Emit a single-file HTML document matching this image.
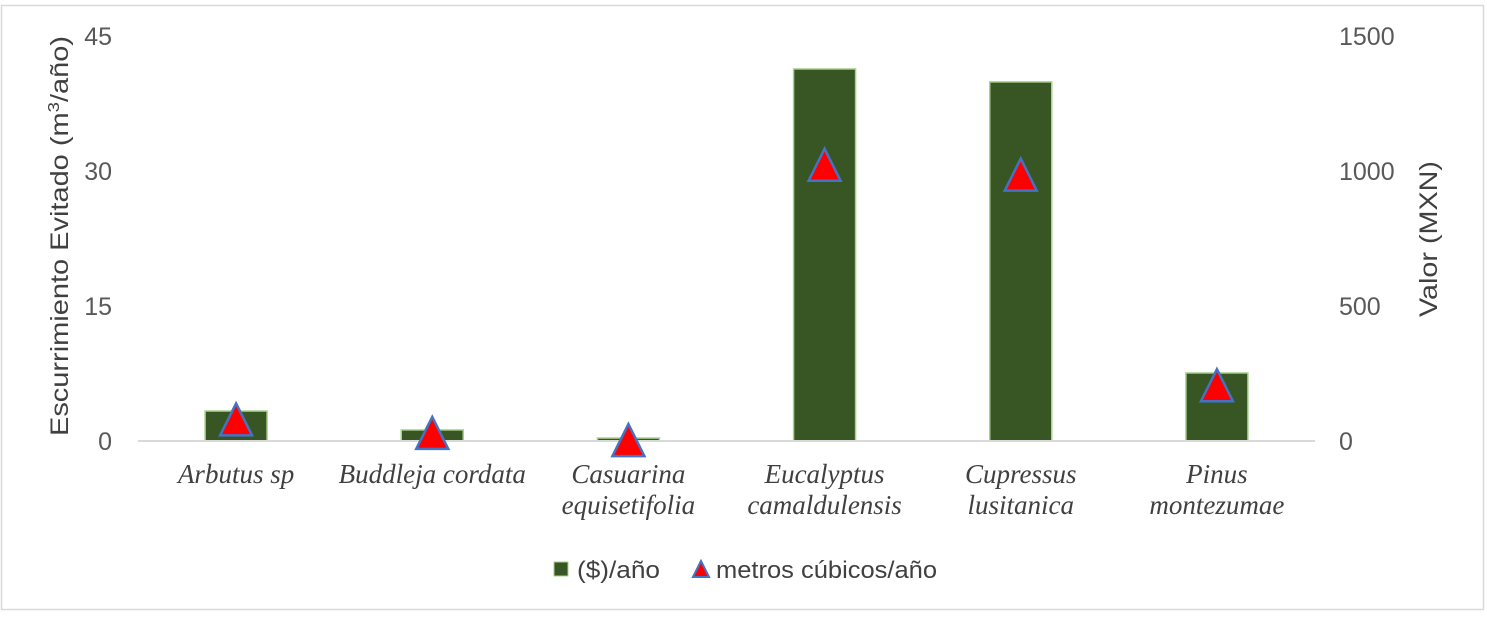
<!DOCTYPE html>
<html><head><meta charset="utf-8"><style>
html,body{margin:0;padding:0;background:#fff;}
svg text{font-family:"Liberation Sans",sans-serif;}
svg text.serif{font-family:"Liberation Serif",serif;}
</style></head><body>
<svg id="chart" width="1487" height="615" xmlns="http://www.w3.org/2000/svg">
<rect x="1.5" y="5.5" width="1482" height="604" fill="#fff" stroke="#d9d9d9" stroke-width="1.5"/>
<g id="plot"></g>
<text transform="translate(68,236) rotate(-90)" text-anchor="middle" font-size="25" fill="#404040" textLength="400" lengthAdjust="spacingAndGlyphs">Escurrimiento Evitado (m<tspan font-size="16" dy="-9">3</tspan><tspan dy="9">/año)</tspan></text>
<text transform="translate(1437,239) rotate(-90)" text-anchor="middle" font-size="25" fill="#404040" textLength="156" lengthAdjust="spacingAndGlyphs">Valor (MXN)</text>
<g>
<rect x="554" y="562" width="14" height="14" fill="#375623" stroke="#a9d18e" stroke-width="1"/>
<text x="577" y="578" font-size="24" fill="#404040" textLength="83" lengthAdjust="spacingAndGlyphs">($)/año</text>
<polygon points="701,561 693,577 709,577" fill="#ff0000" stroke="#4472c4" stroke-width="2"/>
<text x="716" y="578" font-size="24" fill="#404040" textLength="221" lengthAdjust="spacingAndGlyphs">metros cúbicos/año</text>
</g>
</svg>
<script>
const categories=[["Arbutus sp"],["Buddleja cordata"],["Casuarina","equisetifolia"],["Eucalyptus","camaldulensis"],["Cupressus","lusitanica"],["Pinus","montezumae"]];
const valueMXN=[111,41,11,1378,1330,252];
const volume=[2.4,0.9,0.1,30.7,29.6,6.2];
const leftTicks=[0,15,30,45];
const rightTicks=[0,500,1000,1500];
const NS="http://www.w3.org/2000/svg";
const g=document.getElementById('plot');
const x0=138,x1=1315,yB=441,yT=36;
const yL=v=>yB-(v/45)*(yB-yT);
const yR=v=>yB-(v/1500)*(yB-yT);
const step=(x1-x0)/categories.length;
const xC=i=>x0+step*(i+0.5);
function mk(t,a){const e=document.createElementNS(NS,t);for(const k in a)e.setAttribute(k,a[k]);g.appendChild(e);return e;}
leftTicks.forEach(v=>{const t=mk('text',{x:112,y:yL(v)+9,'text-anchor':'end','font-size':25,fill:'#595959'});t.textContent=v;

});
rightTicks.forEach(v=>{const t=mk('text',{x:1339,y:yR(v)+9,'text-anchor':'start','font-size':25,fill:'#595959'});t.textContent=v;

});
valueMXN.forEach((v,i)=>{const r=mk('rect',{x:xC(i)-31,y:yR(v),width:62,height:yB-yR(v),fill:'#375623',stroke:'#a9d18e','stroke-width':1.5});

});
const ax=mk('line',{x1:x0,x2:x1,y1:yB,y2:yB,stroke:'#d9d9d9','stroke-width':2});


volume.forEach((v,i)=>{const cx=xC(i),cy=yL(v);const p=mk('polygon',{points:`${cx},${cy-16} ${cx-16},${cy+16} ${cx+16},${cy+16}`,fill:'#ff0000',stroke:'#4472c4','stroke-width':2.5});

});
categories.forEach((c,i)=>{c.forEach((l,j)=>{const t=mk('text',{x:xC(i),y:483+j*31,'text-anchor':'middle','font-size':27,'font-style':'italic',fill:'#404040','class':'serif'});t.textContent=l;

});});
</script>
</body></html>
